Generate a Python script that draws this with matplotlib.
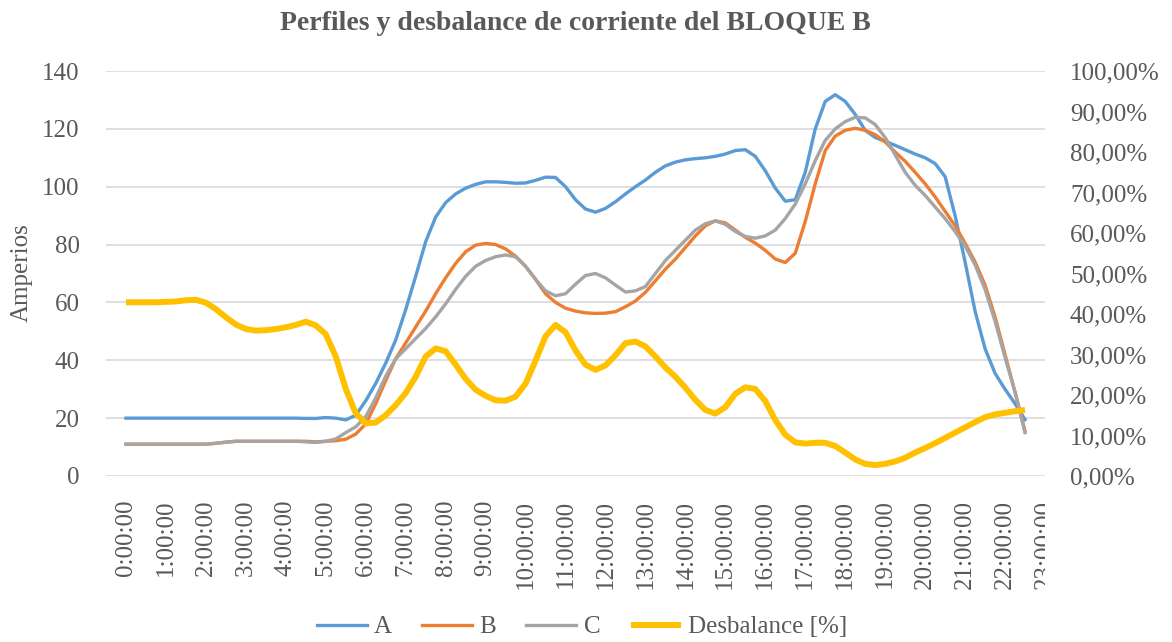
import matplotlib
matplotlib.use("Agg")
import matplotlib.pyplot as plt
from matplotlib.ticker import FuncFormatter
from matplotlib.transforms import Bbox, TransformedBbox
import numpy as np

plt.rcParams['font.family'] = ['Liberation Serif', 'DejaVu Serif']

# 15-minute samples from 0:00 to 22:30
horas = np.arange(91) * 0.25

fase_a = [20, 20, 20, 20, 20, 20, 20, 20, 20, 20,
          20, 20, 20, 20, 20, 20, 20, 20, 19.9, 19.9,
          20.2, 20.0, 19.4, 21, 26, 32, 39, 47, 57.5, 69,
          81, 89.5, 94.5, 97.5, 99.5, 100.8, 101.7, 101.7, 101.5, 101.2,
          101.3, 102.2, 103.3, 103.2, 100, 95.5, 92.3, 91.2, 92.5, 94.8,
          97.5, 100, 102.3, 105, 107.2, 108.5, 109.3, 109.7, 110, 110.5,
          111.3, 112.5, 112.8, 110.5, 105.5, 99.5, 95, 95.5, 105, 120,
          129.5, 131.8, 129.5, 125, 119.5, 117, 115.7, 114.3, 112.8, 111.3,
          110, 108, 103.5, 90, 74, 57, 44, 35.5, 30, 25,
          19.5]

fase_b = [11, 11, 11, 11, 11, 11, 11, 11, 11, 11.3,
          11.7, 12, 12, 12, 12, 12, 12, 12, 12, 11.8,
          12, 12.2, 12.7, 14.5, 18, 25, 33, 40.5, 46, 51.5,
          57, 63, 68.5, 73.5, 77.5, 79.8, 80.4, 80, 78.5, 76,
          72.5, 68, 63, 60, 58, 57, 56.4, 56.2, 56.3, 56.8,
          58.5, 60.5, 63.5, 67.5, 71.5, 75, 79, 83, 86.5, 88.2,
          87.5, 85, 82.5, 80.5, 78, 75, 73.8, 77, 88, 101,
          112.5, 117.5, 119.5, 120.2, 119.5, 118, 115.5, 112, 108.8, 105,
          101, 96.5, 91.5, 86.5, 80.5, 74, 66, 55, 42, 29,
          15.5]

fase_c = [11, 11, 11, 11, 11, 11, 11, 11, 11, 11.3,
          11.7, 12, 12, 12, 12, 12, 12, 12, 11.8, 11.6,
          12, 12.8, 15, 17, 20.5, 27, 34.5, 40.5, 44, 47.5,
          51, 55, 59.5, 64.5, 69, 72.5, 74.5, 75.8, 76.4, 75.8,
          72.5, 68, 64, 62.3, 63, 66.3, 69.3, 70, 68.5, 66,
          63.6, 64, 65.5, 70, 74.5, 78, 81.5, 85, 87.2, 88.2,
          87, 84.5, 82.8, 82.2, 83, 85, 89, 94, 101, 109,
          116, 120, 122.5, 124, 123.8, 121.5, 117, 111, 105, 100.5,
          97, 93, 89, 84.5, 79.5, 73, 64.5, 53.5, 41, 29,
          15]

desbalance = [42.9, 42.9, 42.9, 42.9, 43.0, 43.1, 43.4, 43.5, 42.8, 41.2,
              39.2, 37.4, 36.3, 35.9, 36.0, 36.3, 36.7, 37.3, 38.1, 37.2,
              35.0, 29.5, 21.5, 15.5, 13.0, 13.2, 15.0, 17.5, 20.5, 24.5,
              29.5, 31.5, 30.8, 27.5, 24.0, 21.3, 19.8, 18.7, 18.6, 19.6,
              22.8, 28.5, 34.5, 37.3, 35.5, 31.0, 27.5, 26.2, 27.3, 29.8,
              32.8, 33.2, 32.0, 29.5, 26.8, 24.5, 21.8, 18.8, 16.3, 15.4,
              17.0, 20.3, 21.9, 21.5, 18.5, 13.8, 10.2, 8.3, 8.0, 8.2,
              8.2, 7.4, 5.8, 4.1, 3.0, 2.7, 3.0, 3.6, 4.5, 5.8,
              6.9, 8.1, 9.4, 10.7, 12.0, 13.3, 14.5, 15.2, 15.6, 16.0,
              16.3]

etiquetas_x = [f"{h}:00:00" for h in range(24)]

gris_texto = '#595959'
W, H = 1172, 642
fs = 18

fig = plt.figure(figsize=(W / 100, H / 100), dpi=100)
ax = fig.add_axes([106 / W, 1 - 476 / H, (1045 - 106) / W, (476 - 71) / H])
ax2 = ax.twinx()

la, = ax.plot(horas, fase_a, color='#5B9BD5', lw=2.4, label='A')
lb, = ax.plot(horas, fase_b, color='#ED7D31', lw=2.4, label='B')
lc, = ax.plot(horas, fase_c, color='#A5A5A5', lw=2.4, label='C')
ld, = ax2.plot(horas, desbalance, color='#FFC000', lw=4.3, label='Desbalance [%]',
               solid_joinstyle='round', solid_capstyle='butt')

ax.set_ylim(0, 140)
ax.set_yticks(range(0, 141, 20))
ax2.set_ylim(0, 100)
ax2.set_yticks(range(0, 101, 10))
ax2.yaxis.set_major_formatter(FuncFormatter(lambda v, p: f"{v:.2f}".replace('.', ',') + '%'))

ax.set_xlim(-0.5, 23.0)
ax.set_xticks(range(24))
ax.set_xticklabels(etiquetas_x, rotation=90)

ax.grid(axis='y', color='#D9D9D9', lw=1.2)
ax.set_axisbelow(True)
for a in (ax, ax2):
    for s in a.spines.values():
        s.set_visible(False)
ax.tick_params(axis='y', length=0, pad=19, labelsize=fs, labelcolor=gris_texto)
ax.tick_params(axis='x', length=0, pad=17, labelsize=fs, labelcolor=gris_texto)
ax2.tick_params(axis='y', length=0, pad=18, labelsize=fs, labelcolor=gris_texto)

# the last hour label is cut at the plot edge in the original
clip = TransformedBbox(Bbox([[0, 0], [1045 / W, 1]]), fig.transFigure)
for lbl in ax.get_xticklabels():
    lbl.set_clip_box(clip)
    lbl.set_clip_on(True)

fig.text(22 / W, 1 - 273 / H, 'Amperios', rotation=90, ha='center', va='center',
         fontsize=fs, color=gris_texto)
fig.text(575 / W, 1 - 23 / H, 'Perfiles y desbalance de corriente del BLOQUE B',
         ha='center', va='center', fontsize=20, fontweight='bold', color=gris_texto)

fig.legend(handles=[la, lb, lc, ld], loc='center', bbox_to_anchor=(582 / W, 1 - 627 / H),
           ncol=4, frameon=False, fontsize=fs, labelcolor=gris_texto,
           handlelength=2.0, handletextpad=0.3, columnspacing=1.2)

fig.savefig('out.png', dpi=100)
